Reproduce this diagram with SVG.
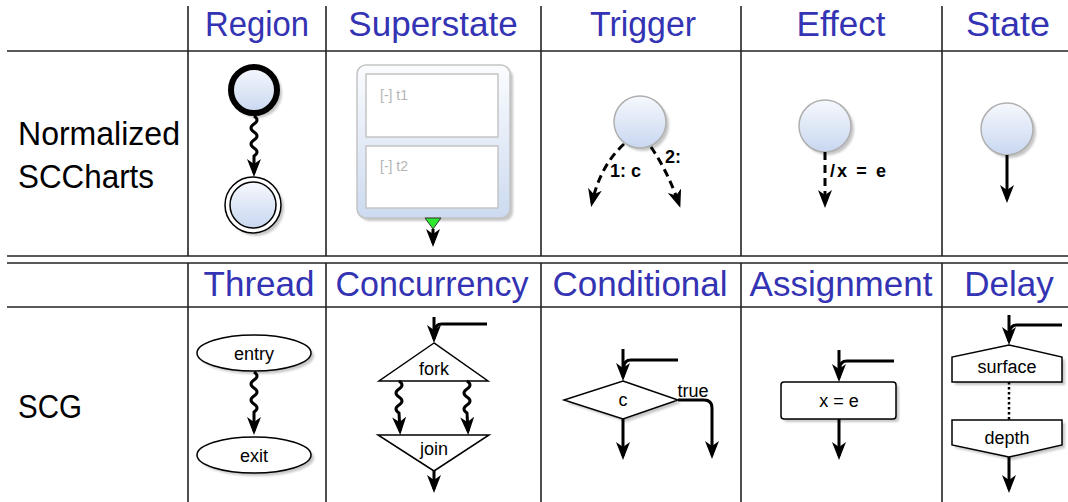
<svg xmlns="http://www.w3.org/2000/svg" width="1068" height="502" viewBox="0 0 1068 502">
<style>
.hdr{font-family:"Liberation Sans",Arial,sans-serif;font-size:35px;fill:#3333b3;text-anchor:middle}
.lbl{font-family:"Liberation Sans",Arial,sans-serif;font-size:34px;fill:#000}
.grid{stroke:#222;stroke-width:1.6;fill:none}
.t{font-family:"Liberation Sans",Arial,sans-serif;font-size:18px;fill:#000;text-anchor:middle}
.b{font-family:"Liberation Sans",Arial,sans-serif;font-size:18px;font-weight:bold;fill:#000}
.g{font-family:"Liberation Sans",Arial,sans-serif;font-size:14px;fill:#b4b4b4}
.c{fill:none;stroke:#000;stroke-width:3}
.d{stroke-dasharray:8,5}
.node{fill:#fff;stroke:#000;stroke-width:1.5}
.st{fill:url(#sg);stroke:#b0b0b0;stroke-width:1.5}
.sh{fill:#999;opacity:0.55;filter:url(#bl)}
</style>
<defs>
<linearGradient id="sg" x1="0" y1="0" x2="0" y2="1">
<stop offset="0" stop-color="#f6f8fd"/>
<stop offset="1" stop-color="#c8d7f0"/>
</linearGradient>
<linearGradient id="ssg" x1="0" y1="0" x2="0" y2="1">
<stop offset="0" stop-color="#fbfcfe"/>
<stop offset="1" stop-color="#ccdaf0"/>
</linearGradient>
<filter id="bl" x="-20%" y="-20%" width="140%" height="140%"><feGaussianBlur stdDeviation="1.2"/></filter>
<marker id="ah" markerUnits="userSpaceOnUse" viewBox="0 0 18 14" markerWidth="18" markerHeight="14" refX="14" refY="7" orient="auto">
<path d="M0,0 L18,7 L0,14 L5,7 Z" fill="#000"/>
</marker>
</defs>

<g id="table">
<line class="grid" x1="7" y1="51" x2="1068" y2="51"/>
<line class="grid" x1="7" y1="256" x2="1068" y2="256"/>
<line class="grid" x1="7" y1="263" x2="1068" y2="263"/>
<line class="grid" x1="7" y1="307" x2="1068" y2="307"/>
<line class="grid" x1="188" y1="6" x2="188" y2="256"/>
<line class="grid" x1="326" y1="6" x2="326" y2="256"/>
<line class="grid" x1="541" y1="6" x2="541" y2="256"/>
<line class="grid" x1="741" y1="6" x2="741" y2="256"/>
<line class="grid" x1="942" y1="6" x2="942" y2="256"/>
<line class="grid" x1="188" y1="263" x2="188" y2="502"/>
<line class="grid" x1="326" y1="263" x2="326" y2="502"/>
<line class="grid" x1="541" y1="263" x2="541" y2="502"/>
<line class="grid" x1="741" y1="263" x2="741" y2="502"/>
<line class="grid" x1="942" y1="263" x2="942" y2="502"/>
</g>

<g id="headers">
<text class="hdr" x="257" y="36" textLength="104" lengthAdjust="spacingAndGlyphs">Region</text>
<text class="hdr" x="433" y="36">Superstate</text>
<text class="hdr" x="643" y="36" textLength="106" lengthAdjust="spacingAndGlyphs">Trigger</text>
<text class="hdr" x="841" y="36">Effect</text>
<text class="hdr" x="1008" y="36" textLength="84" lengthAdjust="spacingAndGlyphs">State</text>
<text class="hdr" x="259" y="296">Thread</text>
<text class="hdr" x="432" y="296" textLength="193" lengthAdjust="spacingAndGlyphs">Concurrency</text>
<text class="hdr" x="640" y="296">Conditional</text>
<text class="hdr" x="841" y="296">Assignment</text>
<text class="hdr" x="1009" y="296">Delay</text>
<text class="lbl" x="18" y="145" textLength="162" lengthAdjust="spacingAndGlyphs">Normalized</text>
<text class="lbl" x="18" y="188" textLength="136" lengthAdjust="spacingAndGlyphs">SCCharts</text>
<text class="lbl" x="18" y="418" textLength="64" lengthAdjust="spacingAndGlyphs">SCG</text>
</g>

<g id="region-initial">
<circle class="sh" cx="257" cy="93" r="25"/>
<circle cx="254" cy="90" r="23" fill="url(#sg)" stroke="#000" stroke-width="6"/>
</g>
<g id="region-final">
<circle class="sh" cx="256" cy="208" r="28"/>
<circle cx="253" cy="205" r="28" fill="#fff" stroke="#000" stroke-width="1.5"/>
<circle cx="253" cy="205" r="23" fill="url(#sg)" stroke="#000" stroke-width="1.5"/>
</g>

<g id="superstate">
<rect class="sh" x="360" y="68" width="153" height="153" rx="9"/>
<rect x="357" y="65" width="153" height="153" rx="9" fill="url(#ssg)" stroke="#c4c4c4" stroke-width="1.5"/>
<rect x="366" y="74" width="132" height="63" fill="#fff" stroke="#c4c4c4" stroke-width="1.5"/>
<rect x="366" y="146" width="132" height="62" fill="#fff" stroke="#c4c4c4" stroke-width="1.5"/>
<text class="g" x="380" y="100">[-] t1</text>
<text class="g" x="380" y="171">[-] t2</text>
<polygon points="425,218 441,218 433,229" fill="#2ee82e" stroke="#333" stroke-width="1"/>
</g>

<g id="trigger-state">
<circle class="sh" cx="643" cy="125" r="26"/>
<circle class="st" cx="640" cy="122" r="26"/>
</g>
<g id="effect-state">
<circle class="sh" cx="828" cy="129" r="26"/>
<circle class="st" cx="825" cy="126" r="26"/>
</g>
<g id="state">
<circle class="sh" cx="1010" cy="132" r="26"/>
<circle class="st" cx="1007" cy="129" r="26"/>
</g>

<g id="thread-entry">
<ellipse class="sh" cx="257" cy="356" rx="57" ry="18"/>
<ellipse class="node" cx="254" cy="353" rx="57" ry="18"/>
<text class="t" x="254" y="360">entry</text>
</g>
<g id="thread-exit">
<ellipse class="sh" cx="257" cy="458" rx="57" ry="18"/>
<ellipse class="node" cx="254" cy="455" rx="57" ry="18"/>
<text class="t" x="254" y="462">exit</text>
</g>

<g id="fork">
<polygon class="node" points="434,343 379,381 488,381"/>
<text class="t" x="434" y="375">fork</text>
</g>
<g id="join">
<polygon class="node" points="378,435 489,435 434,471"/>
<text class="t" x="434" y="455">join</text>
</g>

<g id="conditional">
<polygon class="sh" points="626,384 681,403 626,422 567,403"/>
<polygon class="node" points="623,381 678,400 623,419 564,400"/>
<text class="t" x="623" y="406">c</text>
</g>

<g id="assignment">
<rect class="sh" x="784" y="385" width="115" height="37" rx="3"/>
<rect class="node" x="781" y="382" width="115" height="37" rx="3"/>
<text class="t" x="839" y="407">x = e</text>
</g>

<g id="surface">
<polygon class="sh" points="955,385 955,360 1012,348 1065,360 1065,385"/>
<polygon class="node" points="952,382 952,357 1009,345 1062,357 1062,382"/>
<text class="t" x="1007" y="373">surface</text>
</g>
<g id="depth">
<polygon class="sh" points="955,423 1065,423 1065,448 1012,460 955,448"/>
<polygon class="node" points="952,420 1062,420 1062,445 1009,457 952,445"/>
<text class="t" x="1007" y="444">depth</text>
</g>

<g id="connectors">
<path class="c" marker-end="url(#ah)" d="M254,116 q6,4 0,8 t0,8 t0,8 t0,8 t0,8 L254,173"/>
<path class="c" marker-end="url(#ah)" d="M433,229 V243"/>
<path class="c d" marker-end="url(#ah)" d="M624,144 Q600,166 592,203"/>
<path class="c d" marker-end="url(#ah)" d="M651,147 Q668,172 679,204"/>
<text class="b" x="610" y="177">1: c</text>
<text class="b" x="665" y="163">2:</text>
<path class="c d" marker-end="url(#ah)" d="M825,152 V204"/>
<text class="b" x="830" y="177" textLength="56" lengthAdjust="spacing">/x = e</text>
<path class="c" marker-end="url(#ah)" d="M1007,155 V199"/>

<path class="c" marker-end="url(#ah)" d="M254,372 q6,4 0,8 t0,8 t0,8 t0,8 t0,8 L254,431"/>
<path class="c" marker-end="url(#ah)" d="M434,317 V339"/>
<path class="c" d="M487,324 H442 Q435,324 435,331"/>
<path class="c" marker-end="url(#ah)" d="M399,381 q6,4 0,8 t0,8 t0,8 t0,8 L400,431"/>
<path class="c" marker-end="url(#ah)" d="M467,381 q6,4 0,8 t0,8 t0,8 t0,8 L468,431"/>
<path class="c" marker-end="url(#ah)" d="M434,471 V489"/>

<path class="c" marker-end="url(#ah)" d="M623,349 V377"/>
<path class="c" d="M678,360 H631 Q624,360 624,367"/>
<path class="c" marker-end="url(#ah)" d="M623,419 V456"/>
<path class="c" marker-end="url(#ah)" d="M678,400 H704 Q712,400 712,408 V455"/>
<text class="t" x="693" y="397">true</text>

<path class="c" marker-end="url(#ah)" d="M839,350 V378"/>
<path class="c" d="M894,361 H847 Q840,361 840,368"/>
<path class="c" marker-end="url(#ah)" d="M839,419 V456"/>

<path class="c" marker-end="url(#ah)" d="M1009,315 V341"/>
<path class="c" d="M1062,325 H1017 Q1010,325 1010,332"/>
<path fill="none" stroke="#000" stroke-width="2.5" stroke-dasharray="2.5,2.5" d="M1009,382 V420"/>
<path class="c" marker-end="url(#ah)" d="M1009,457 V489"/>
</g>
</svg>
